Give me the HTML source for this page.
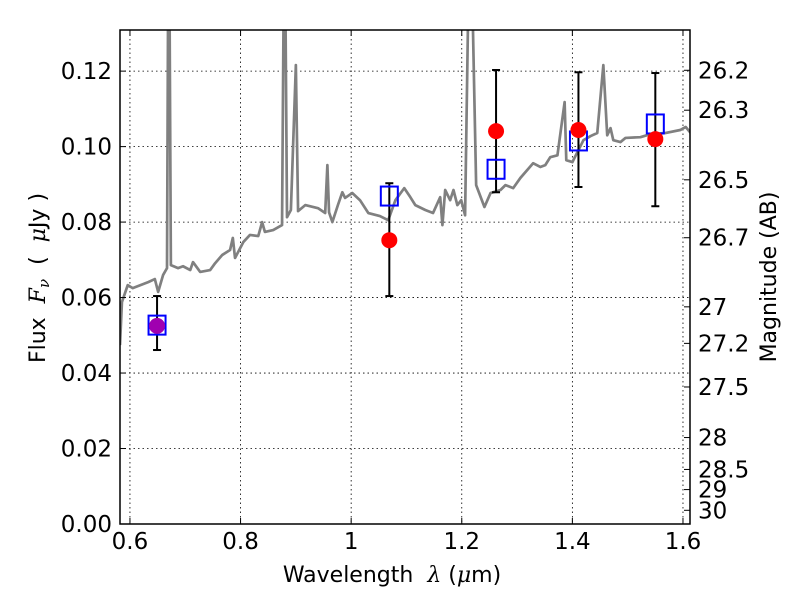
<!DOCTYPE html>
<html><head><meta charset="utf-8"><style>
body{margin:0;background:#fff;font-family:"Liberation Sans","DejaVu Sans",sans-serif}
svg text{font-family:"DejaVu Sans","Liberation Sans",sans-serif;fill:#000}
svg .m{font-family:"DejaVu Serif","Liberation Serif",serif;font-style:italic}
</style></head><body>
<svg id="chart" width="800" height="600" viewBox="0 0 800 600" xmlns="http://www.w3.org/2000/svg">
<g id="grid"></g>
<g id="spec"></g>
<g id="phot"></g>
<g id="axes"></g>
<text x="392" y="582" font-size="22" text-anchor="middle">Wavelength&#160;&#160;<tspan class="m">λ</tspan> (<tspan class="m">μ</tspan>m)</text>
<text transform="translate(45,278) rotate(-90)" font-size="22" text-anchor="middle">Flux&#160;&#160;<tspan class="m">F<tspan font-size="15" dy="4">ν</tspan></tspan><tspan dy="-4">&#160;&#160;(&#160;&#160;</tspan><tspan class="m">μ</tspan>Jy )</text>
<text transform="translate(776,277) rotate(-90)" font-size="22" text-anchor="middle">Magnitude (AB)</text>
</svg>
<script>
const specX=[0.582,0.5855,0.596,0.605,0.633,0.645,0.651,0.660,0.667,0.669,0.6715,0.674,0.687,0.696,0.709,0.714,0.727,0.745,0.754,0.767,0.781,0.786,0.790,0.805,0.817,0.832,0.839,0.844,0.859,0.875,0.878,0.881,0.884,0.891,0.900,0.904,0.917,0.940,0.953,0.957,0.960,0.966,0.976,0.984,0.989,1.002,1.016,1.031,1.052,1.067,1.080,1.096,1.107,1.116,1.134,1.148,1.161,1.165,1.170,1.179,1.185,1.192,1.199,1.206,1.212,1.219,1.226,1.241,1.252,1.270,1.279,1.293,1.306,1.329,1.342,1.351,1.360,1.373,1.386,1.389,1.400,1.420,1.433,1.445,1.456,1.463,1.469,1.474,1.487,1.496,1.523,1.541,1.568,1.595,1.605,1.614];
const specY=[0.0474,0.0588,0.0633,0.0625,0.0641,0.0649,0.0615,0.0660,0.0678,0.14,0.14,0.0686,0.0678,0.0683,0.0673,0.0694,0.0668,0.0673,0.0691,0.0713,0.0726,0.0758,0.0705,0.0747,0.0766,0.0763,0.0800,0.0774,0.0779,0.0792,0.14,0.14,0.0813,0.0832,0.1216,0.0829,0.0845,0.0837,0.0824,0.0951,0.0826,0.0800,0.0845,0.0879,0.0864,0.0877,0.0858,0.0824,0.0816,0.0805,0.0858,0.0890,0.0866,0.0845,0.0832,0.0824,0.0866,0.0792,0.0885,0.0858,0.0885,0.0845,0.0858,0.0818,0.14,0.14,0.0898,0.0840,0.0877,0.0885,0.0898,0.0890,0.0917,0.0956,0.0946,0.0951,0.0972,0.0977,0.1118,0.0964,0.0959,0.1017,0.1028,0.1036,0.1216,0.1030,0.1049,0.1017,0.1012,0.1023,0.1025,0.1033,0.1036,0.1044,0.1052,0.1036];
const photX=[0.649,1.069,1.262,1.411,1.550];
const obsFlux=[0.0525,0.0752,0.1041,0.1044,0.1020];
const errHi=[0.0604,0.0903,0.1203,0.1197,0.1195];
const errLo=[0.0461,0.0604,0.0879,0.0893,0.0842];
const modelFlux=[0.0527,0.0869,0.0940,0.1015,0.1060];
const obsColor=["#a000b0","#ff0000","#ff0000","#ff0000","#ff0000"];
const xTicks=[0.6,0.8,1.0,1.2,1.4,1.6];
const xTickLabels=["0.6","0.8","1","1.2","1.4","1.6"];
const yTicks=[0,0.02,0.04,0.06,0.08,0.10,0.12];
const yTickLabels=["0.00","0.02","0.04","0.06","0.08","0.10","0.12"];
const magTicks=[26.2,26.3,26.5,26.7,27,27.2,27.5,28,28.5,29,30];
const magLabels=["26.2","26.3","26.5","26.7","27","27.2","27.5","28","28.5","29","30"];
const L=120,R=690,T=30,B=524,X0=0.582,X1=1.6127,Y0=0,Y1=0.1309;
const sx=v=>L+(v-X0)/(X1-X0)*(R-L);
const sy=v=>B-(v-Y0)/(Y1-Y0)*(B-T);
const NS="http://www.w3.org/2000/svg";
function mk(t,a,p){const e=document.createElementNS(NS,t);for(const k in a)e.setAttribute(k,a[k]);p.appendChild(e);return e;}
const grid=document.getElementById('grid'),axes=document.getElementById('axes'),spec=document.getElementById('spec'),phot=document.getElementById('phot');
xTicks.forEach((v,i)=>{const x=sx(v);
 const g=mk('line',{x1:x,x2:x,y1:T,y2:B,stroke:'#000','stroke-width':0.8,'stroke-dasharray':'1.5,3'},grid);
 
 
 mk('line',{x1:x,x2:x,y1:B,y2:B-6,stroke:'#000'},axes);mk('line',{x1:x,x2:x,y1:T,y2:T+6,stroke:'#000'},axes);
 const t=mk('text',{x:x,y:B+25,'font-size':23,'text-anchor':'middle'},axes);t.textContent=xTickLabels[i];
 
 });
yTicks.forEach((v,i)=>{const y=sy(v);
 const g=mk('line',{x1:L,x2:R,y1:y,y2:y,stroke:'#000','stroke-width':0.8,'stroke-dasharray':'1.5,3'},grid);
 
 
 mk('line',{x1:L,x2:L+6,y1:y,y2:y,stroke:'#000'},axes);
 const t=mk('text',{x:L-8,y:y+8,'font-size':23,'text-anchor':'end'},axes);t.textContent=yTickLabels[i];
 
 });
magTicks.forEach((m,i)=>{const f=Math.pow(10,(23.9-m)/2.5);const y=sy(f);
 mk('line',{x1:R,x2:R-6,y1:y,y2:y,stroke:'#000'},axes);
 const t=mk('text',{x:R+8,y:y+8,'font-size':23},axes);t.textContent=magLabels[i];
 
 });
const cp=mk('clipPath',{id:'cp'},document.getElementById('chart'));mk('rect',{x:L,y:T,width:R-L,height:B-T},cp);
spec.setAttribute('clip-path','url(#cp)');
const pl=mk('polyline',{points:specX.map((x,i)=>sx(x)+','+sy(specY[i])).join(' '),fill:'none',stroke:'#808080','stroke-width':2.7,'stroke-linejoin':'round'},spec);


photX.forEach((x,i)=>{const px=sx(x);
 const eb=mk('g',{},phot);
 
 
 mk('line',{x1:px,x2:px,y1:sy(errHi[i]),y2:sy(errLo[i]),stroke:'#000','stroke-width':2},eb);
 mk('line',{x1:px-4,x2:px+4,y1:sy(errHi[i]),y2:sy(errHi[i]),stroke:'#000','stroke-width':2},eb);
 mk('line',{x1:px-4,x2:px+4,y1:sy(errLo[i]),y2:sy(errLo[i]),stroke:'#000','stroke-width':2},eb);
 const s=mk('rect',{x:px-8.5,y:sy(modelFlux[i])-9.5,width:17,height:19,fill:'none',stroke:'#0000ff','stroke-width':2},phot);
 
 
 const c=mk('circle',{cx:px,cy:sy(obsFlux[i]),r:8,fill:obsColor[i]},phot);
 
 });
const fr=mk('rect',{x:L,y:T,width:R-L,height:B-T,fill:'none',stroke:'#000','stroke-width':1.5},axes);


</script>
</body></html>
